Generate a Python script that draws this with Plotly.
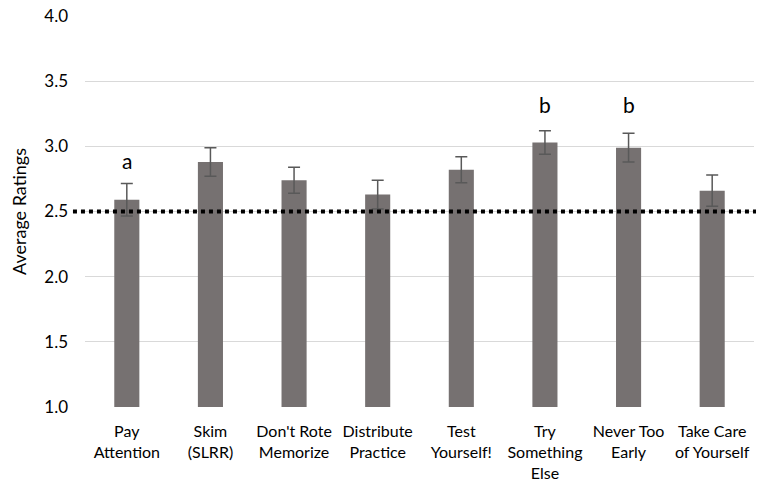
import plotly.graph_objects as go

categories = ["Pay<br>Attention", "Skim<br>(SLRR)", "Don't Rote<br>Memorize", "Distribute<br>Practice",
              "Test<br>Yourself!", "Try<br>Something<br>Else", "Never Too<br>Early", "Take Care<br>of Yourself"]
ratings = [2.59, 2.88, 2.74, 2.63, 2.82, 3.03, 2.99, 2.66]
errors = [0.125, 0.11, 0.10, 0.11, 0.10, 0.09, 0.11, 0.12]
sig_letters = ["a", "", "", "", "", "b", "b", ""]
sig_y = [2.78, None, None, None, None, 3.21, 3.21, None]
reference_value = 2.5
y_ticks = [1.0, 1.5, 2.0, 2.5, 3.0, 3.5, 4.0]

FONT = "Lato"

fig = go.Figure()
fig.add_trace(go.Bar(
    x=categories, y=ratings, width=0.30,
    marker=dict(color="#767171", line=dict(width=0)),
    error_y=dict(type="data", array=errors, visible=True, color="#595959", thickness=1.5, width=6),
    showlegend=False, hoverinfo="skip",
))

for c, s, yy in zip(categories, sig_letters, sig_y):
    if s:
        fig.add_annotation(x=c, y=yy, text=s, showarrow=False, yanchor="bottom",
                           font=dict(family=FONT, size=21, color="#000000"))

fig.add_shape(type="line", xref="paper", yref="y", x0=-0.018, x1=1.003, y0=reference_value, y1=reference_value,
              line=dict(color="#000000", width=4, dash="4px,4px"))

fig.update_layout(
    width=758, height=489,
    margin=dict(l=85, r=4, t=16, b=82),
    paper_bgcolor="white", plot_bgcolor="white",
    font=dict(family=FONT, size=16, color="#000000"),
    xaxis=dict(showgrid=False, showline=False, ticks="", ticklabelstandoff=13,
               tickfont=dict(family=FONT, size=16, color="#000000")),
    yaxis=dict(range=[1.0, 4.0], tickvals=y_ticks, ticktext=[f"{t:.1f}" for t in y_ticks],
               showgrid=True, gridcolor="#D9D9D9", gridwidth=1, zeroline=False, showline=False,
               ticks="", ticklabelstandoff=16,
               tickfont=dict(family=FONT, size=17, color="#000000"),
               title=dict(text="Average Ratings", font=dict(family=FONT, size=18, color="#000000"), standoff=12)),
)

fig.write_html("out.html", config={"displayModeBar": False},
               post_script="document.body.style.margin='0';")
